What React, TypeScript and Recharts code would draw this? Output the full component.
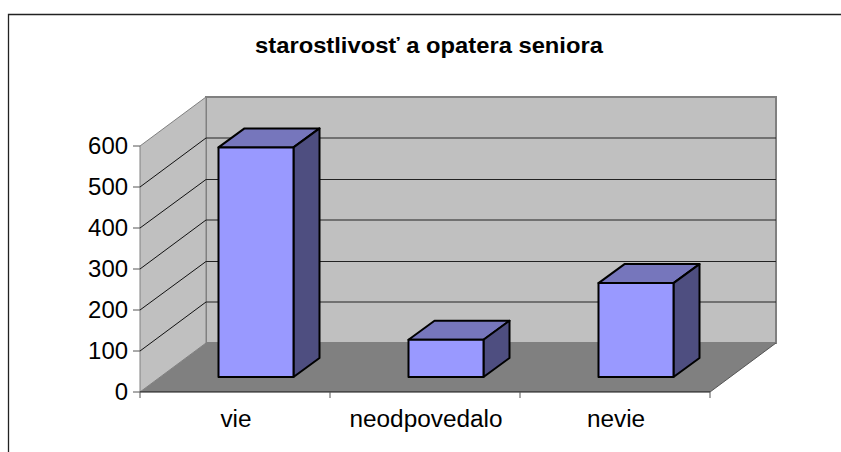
import { BarChart, Bar, XAxis, YAxis, CartesianGrid, Customized } from 'recharts';

const categories = ['vie', 'neodpovedalo', 'nevie'];
const counts = [560, 91, 229];
const yTicks = [0, 100, 200, 300, 400, 500, 600];
const title = 'starostlivosť a opatera seniora';

const chartData = categories.map((name, i) => ({ name, count: counts[i] }));

const FONT = '"Liberation Sans", Arial, sans-serif';
const WIDTH = 841;
const HEIGHT = 452;

// plot box of the front face
const LEFT = 140;
const RIGHT = 710;
const TOP = 146;
const BOTTOM = 392;

// depth of the walls and of the bars (fake 3d)
const WALL_DX = 66;
const WALL_DY = 49;
const BAR_SHIFT_X = 20.5;
const BAR_SHIFT_Y = 15;
const BAR_DX = 26;
const BAR_DY = 19;

const WALL = '#c0c0c0';
const FLOOR = '#808080';
const EDGE = '#808080';

const Backdrop = () => (
  <g>
    <path d={`M8.5,${HEIGHT} L8.5,14.5 L${WIDTH},14.5`} fill="none" stroke="#222" strokeWidth={1.3} />
    <text
      transform="translate(429,53) scale(1.08,1)"
      textAnchor="middle"
      fontFamily={FONT}
      fontWeight="bold"
      fontSize={22}
      fill="#000"
    >
      {title}
    </text>
    {/* back wall */}
    <rect
      x={LEFT + WALL_DX}
      y={TOP - WALL_DY}
      width={RIGHT - LEFT}
      height={BOTTOM - TOP}
      fill={WALL}
      stroke={EDGE}
      strokeWidth={2}
    />
    {/* side wall */}
    <polygon
      points={`${LEFT},${TOP} ${LEFT + WALL_DX},${TOP - WALL_DY} ${LEFT + WALL_DX},${BOTTOM - WALL_DY} ${LEFT},${BOTTOM}`}
      fill={WALL}
      stroke={EDGE}
      strokeWidth={1}
    />
    {/* floor */}
    <polygon
      points={`${LEFT},${BOTTOM} ${RIGHT},${BOTTOM} ${RIGHT + WALL_DX},${BOTTOM - WALL_DY} ${LEFT + WALL_DX},${BOTTOM - WALL_DY}`}
      fill={FLOOR}
    />
    <line x1={RIGHT} y1={BOTTOM} x2={RIGHT + WALL_DX} y2={BOTTOM - WALL_DY} stroke="#555" strokeWidth={1} />
  </g>
);

// gridline goes along the side wall and then across the back wall
const gridLine = (props: any) => {
  const { x1, y1, x2, index, key } = props;
  if (y1 <= TOP + 1 || y1 >= BOTTOM - 1) return <g key={key ?? index} />;
  const backY = y1 - WALL_DY + (index % 2 === 0 ? 0.5 : 0);
  return (
    <g key={key ?? index}>
      <line x1={x1} y1={y1} x2={x1 + WALL_DX} y2={backY} stroke="#111" strokeWidth={1} />
      <line x1={x1 + WALL_DX} y1={backY} x2={x2 + WALL_DX} y2={backY} stroke="#222" strokeWidth={1} />
    </g>
  );
};

const Bar3D = (props: any) => {
  const x = props.x + BAR_SHIFT_X;
  const y = props.y - BAR_SHIFT_Y;
  const { width, height } = props;
  const r = x + width;
  const b = y + height;
  return (
    <g stroke="#000" strokeWidth={2} strokeLinejoin="round">
      <polygon
        points={`${x},${y} ${x + BAR_DX},${y - BAR_DY} ${r + BAR_DX},${y - BAR_DY} ${r},${y}`}
        fill="#7676bc"
      />
      <polygon
        points={`${r},${y} ${r + BAR_DX},${y - BAR_DY} ${r + BAR_DX},${b - BAR_DY} ${r},${b}`}
        fill="#4e4e80"
      />
      <rect x={x} y={y} width={width} height={height} fill="#9999ff" />
    </g>
  );
};

const YTick = ({ y, payload }: any) => (
  <g>
    <line x1={LEFT - 7} y1={y} x2={LEFT} y2={y} stroke="#555" strokeWidth={1} />
    <text
      transform={`translate(${LEFT - 12},${y + 8}) scale(1.04,1)`}
      textAnchor="end"
      fontFamily={FONT}
      fontSize={23}
      fill="#000"
    >
      {payload.value}
    </text>
  </g>
);

const XTick = ({ x, payload, index }: any) => {
  const step = (RIGHT - LEFT) / categories.length;
  return (
    <g>
      <line x1={x - step / 2} y1={BOTTOM} x2={x - step / 2} y2={BOTTOM + 6} stroke="#555" strokeWidth={1} />
      {index === categories.length - 1 && (
        <line x1={x + step / 2} y1={BOTTOM} x2={x + step / 2} y2={BOTTOM + 6} stroke="#555" strokeWidth={1} />
      )}
      <text
        transform={`translate(${x + 1},${BOTTOM + 35}) scale(1.06,1)`}
        textAnchor="middle"
        fontFamily={FONT}
        fontSize={23}
        fill="#000"
      >
        {payload.value}
      </text>
    </g>
  );
};

const App = (): JSX.Element => (
  <div style={{ position: 'absolute', left: 0, top: 0, width: WIDTH, height: HEIGHT, background: '#fff' }}>
    <BarChart
      width={WIDTH}
      height={HEIGHT}
      data={chartData}
      barSize={75}
      margin={{ top: TOP, right: WIDTH - RIGHT, bottom: 20, left: 40 }}
    >
      <Customized component={Backdrop} />
      <CartesianGrid vertical={false} horizontal={gridLine} zIndex={100} />
      <XAxis
        dataKey="name"
        height={HEIGHT - BOTTOM - 20}
        interval={0}
        tickLine={false}
        axisLine={{ stroke: '#111', strokeWidth: 1 }}
        tick={<XTick />}
      />
      <YAxis
        width={LEFT - 40}
        domain={[0, 600]}
        ticks={yTicks}
        axisLine={false}
        tickLine={false}
        tick={<YTick />}
      />
      <Bar dataKey="count" isAnimationActive={false} shape={<Bar3D />} />
    </BarChart>
  </div>
);

export default App;
